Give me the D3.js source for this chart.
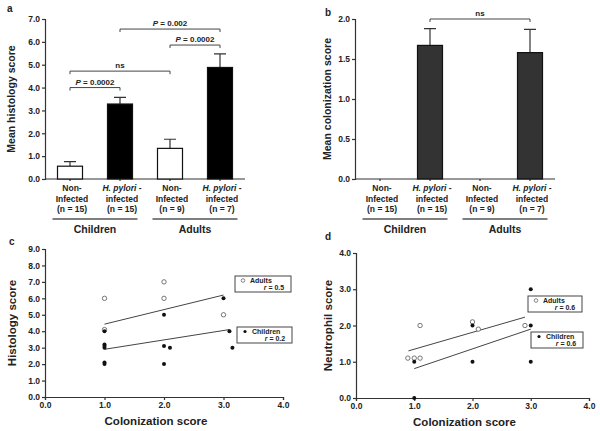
<!DOCTYPE html>
<html>
<head>
<meta charset="utf-8">
<script src="https://cdn.jsdelivr.net/npm/d3@7"></script>
<style>
  body { margin: 0; background: #fff; }
  text { font-family: "Liberation Sans", Arial, sans-serif; font-weight: bold; fill: #222; }
</style>
</head>
<body>
<div id="chart"></div>
<script>
// bar panels (a, b)
var categories = [
  ["Non-", "Infected", "(n = 15)"],
  ["H. pylori", "infected", "(n = 15)"],
  ["Non-", "Infected", "(n = 9)"],
  ["H. pylori", "infected", "(n = 7)"]
];
var groups = ["Children", "Adults"];
var histMean = [0.56, 3.28, 1.34, 4.88];
var histSem = [0.20, 0.29, 0.40, 0.59];
var colMean = [0, 1.67, 0, 1.58];
var colSem = [0, 0.21, 0, 0.29];
var histTicks = [0, 1, 2, 3, 4, 5, 6, 7];
var colTicks = [0, 0.5, 1, 1.5, 2];
// brackets: [from, to, y value, label, italic P?]
var histBrackets = [
  [0, 1, 4.0, "P = 0.0002"],
  [0, 2, 4.72, "ns"],
  [2, 3, 5.86, "P = 0.0002"],
  [1, 3, 6.56, "P = 0.002"]
];
var colBrackets = [[1, 3, 2.0, "ns"]];

// scatter panels (c, d)
var histAdults = [[1.0, 6.0], [1.0, 4.1], [2.0, 7.0], [2.0, 6.0], [3.0, 5.0]];
var histChildren = [[1.0, 4.0], [1.0, 3.2], [1.0, 3.1], [1.0, 3.0], [1.0, 2.1], [1.0, 2.0],
  [2.0, 5.0], [2.0, 3.1], [2.1, 3.0], [2.0, 2.0], [3.0, 6.0], [3.1, 4.0], [3.15, 3.0]];
var histAdultFit = [[1.0, 4.43], [3.0, 6.2]];
var histChildFit = [[1.0, 2.9], [3.1, 4.1]];
var neutAdults = [[0.89, 1.1], [1.0, 1.1], [1.1, 1.1], [1.1, 2.0], [2.0, 2.1], [2.1, 1.9], [2.9, 2.0]];
var neutChildren = [[1.0, 1.0], [1.0, 0.0], [2.0, 2.0], [2.0, 1.0], [3.0, 3.0], [3.0, 2.0], [3.0, 1.0]];
var neutAdultFit = [[0.9, 1.3], [2.9, 2.23]];
var neutChildFit = [[1.0, 0.81], [3.0, 1.9]];
var colonTicks = [0, 1, 2, 3, 4];
var histScatterTicks = [0, 1, 2, 3, 4, 5, 6, 7, 8, 9];
var neutTicks = [0, 1, 2, 3, 4];

var svg = d3.select("#chart").append("svg")
  .attr("width", 600)
  .attr("height", 431);

svg.append("rect")
  .attr("width", "100%")
  .attr("height", "100%")
  .attr("fill", "#fff");

var fmt = d3.format(".1f");

function drawBars(o) {
  var g = svg.append("g");
  var x = d3.scaleBand().domain(d3.range(4)).range([o.x0, o.x1])
    .paddingInner(0.5).paddingOuter(0.25);
  var y = d3.scaleLinear().domain([0, o.max]).range([o.y1, o.y0]);

  g.append("g")
    .attr("transform", `translate(${o.x0},0)`)
    .call(d3.axisLeft(y).tickValues(o.ticks).tickFormat(fmt).tickSize(3).tickPadding(2))
    .call(a => a.selectAll("text").style("font-size", "8.5px"));
  g.append("g")
    .attr("transform", `translate(0,${o.y1})`)
    .call(d3.axisBottom(x).tickSize(2).tickFormat(""))
    .call(a => a.select(".domain").attr("d", `M${o.x0},0H${o.x1}`));
  g.selectAll(".domain, .tick line").attr("stroke", "#333").attr("stroke-width", 1.2);

  // error bars (upper only)
  g.selectAll(".err").data(o.mean)
    .enter().append("path")
    .attr("class", "err")
    .attr("d", (d, i) => {
      if (d === 0) return null;
      var cx = x(i) + x.bandwidth() / 2, top = y(d + o.sem[i]);
      return `M${cx},${y(d)}V${top}M${cx - 6},${top}H${cx + 6}`;
    })
    .attr("fill", "none")
    .attr("stroke", "#333")
    .attr("stroke-width", 1.2);

  g.selectAll(".bar").data(o.mean)
    .enter().append("rect")
    .attr("x", (d, i) => x(i))
    .attr("y", d => y(d))
    .attr("width", x.bandwidth())
    .attr("height", d => y(0) - y(d))
    .attr("fill", (d, i) => o.fill[i])
    .attr("stroke", (d, i) => d === 0 ? "none" : "#111")
    .attr("stroke-width", 1.2);

  // significance brackets
  o.brackets.forEach(function(b) {
    var xa = x(b[0]) + x.bandwidth() / 2, xb = x(b[1]) + x.bandwidth() / 2, yy = y(b[2]);
    g.append("path")
      .attr("d", `M${xa},${yy + 3}V${yy}H${xb}V${yy + 3}`)
      .attr("fill", "none")
      .attr("stroke", "#444")
      .attr("stroke-width", 1);
    var t = g.append("text")
      .attr("x", (xa + xb) / 2)
      .attr("y", yy - 3)
      .attr("text-anchor", "middle")
      .style("font-size", "8px");
    if (b[3][0] === "P") {
      t.append("tspan").style("font-style", "italic").text("P");
      t.append("tspan").text(b[3].slice(1));
    } else {
      t.text(b[3]);
    }
  });

  // category labels
  categories.forEach(function(c, i) {
    var cx = x(i) + x.bandwidth() / 2 + 2;
    c.forEach(function(line, k) {
      var t = g.append("text")
        .attr("x", cx)
        .attr("y", o.y1 + 12 + k * 10.5)
        .attr("text-anchor", "middle")
        .style("font-size", "8.5px");
      if (line === "H. pylori") {
        t.append("tspan").style("font-style", "italic").text("H. pylori");
        t.append("tspan").text(" -");
      } else {
        t.text(line);
      }
    });
  });

  // group lines
  groups.forEach(function(name, gi) {
    var xa = x(gi * 2) - 5, xb = x(gi * 2 + 1) + x.bandwidth() + 5;
    g.append("line")
      .attr("x1", xa).attr("x2", xb)
      .attr("y1", o.y1 + 40).attr("y2", o.y1 + 40)
      .attr("stroke", "#555").attr("stroke-width", 1.3);
    g.append("text")
      .attr("x", (xa + xb) / 2)
      .attr("y", o.y1 + 54)
      .attr("text-anchor", "middle")
      .style("font-size", "10.5px")
      .text(name);
  });

  g.append("text")
    .attr("transform", `translate(${o.titleX},${(o.y0 + o.y1) / 2}) rotate(-90)`)
    .attr("text-anchor", "middle")
    .style("font-size", "10.5px")
    .text(o.title);
  g.append("text")
    .attr("x", o.labelX).attr("y", o.labelY)
    .style("font-size", "10px")
    .text(o.label);
}

function drawScatter(o) {
  var g = svg.append("g");
  var x = d3.scaleLinear().domain([0, 4]).range([o.x0, o.x1]);
  var y = d3.scaleLinear().domain([0, o.max]).range([o.y1, o.y0]);

  g.append("g")
    .attr("transform", `translate(${o.x0},0)`)
    .call(d3.axisLeft(y).tickValues(o.ticks).tickFormat(fmt).tickSize(3).tickPadding(2))
    .call(a => a.selectAll("text").style("font-size", "8.5px"));
  g.append("g")
    .attr("transform", `translate(0,${o.y1})`)
    .call(d3.axisBottom(x).tickValues(colonTicks).tickFormat(fmt).tickSize(3).tickPadding(2))
    .call(a => a.selectAll("text").style("font-size", "8.5px"));
  g.selectAll(".domain, .tick line").attr("stroke", "#333").attr("stroke-width", 1.2);

  var line = d3.line().x(d => x(d[0])).y(d => y(d[1]));
  [o.adultFit, o.childFit].forEach(function(f) {
    g.append("path")
      .attr("d", line(f))
      .attr("fill", "none")
      .attr("stroke", "#444")
      .attr("stroke-width", 1);
  });

  g.selectAll(".adult").data(o.adults)
    .enter().append("circle")
    .attr("cx", d => x(d[0]))
    .attr("cy", d => y(d[1]))
    .attr("r", 2.2)
    .attr("fill", "#fff")
    .attr("stroke", "#666")
    .attr("stroke-width", 0.9);
  g.selectAll(".child").data(o.children)
    .enter().append("circle")
    .attr("cx", d => x(d[0]))
    .attr("cy", d => y(d[1]))
    .attr("r", 2)
    .attr("fill", "#111");

  o.legends.forEach(function(l) {
    g.append("rect")
      .attr("x", l.x).attr("y", l.y)
      .attr("width", l.w).attr("height", 16)
      .attr("fill", "#fff")
      .attr("stroke", "#444")
      .attr("stroke-width", 1);
    g.append("circle")
      .attr("cx", l.x + 8).attr("cy", l.y + 4.5)
      .attr("r", l.open ? 1.8 : 1.6)
      .attr("fill", l.open ? "#fff" : "#111")
      .attr("stroke", l.open ? "#666" : "none")
      .attr("stroke-width", 0.8);
    g.append("text")
      .attr("x", l.x + 15).attr("y", l.y + 7)
      .style("font-size", "7px")
      .text(l.name);
    var t = g.append("text")
      .attr("x", l.x + l.w - 17).attr("y", l.y + 14)
      .attr("text-anchor", "middle")
      .style("font-size", "7px");
    t.append("tspan").style("font-style", "italic").text("r");
    t.append("tspan").text(" = " + l.r);
  });

  g.append("text")
    .attr("x", (o.x0 + o.x1) / 2 - 8)
    .attr("y", o.y1 + 28)
    .attr("text-anchor", "middle")
    .style("font-size", "11.5px")
    .text("Colonization score");
  g.append("text")
    .attr("transform", `translate(${o.titleX},${(o.y0 + o.y1) / 2}) rotate(-90)`)
    .attr("text-anchor", "middle")
    .style("font-size", "11.5px")
    .text(o.title);
  g.append("text")
    .attr("x", o.labelX).attr("y", o.labelY)
    .style("font-size", "10px")
    .text(o.label);
}

drawBars({
  x0: 45, x1: 245, y0: 19, y1: 179, max: 7,
  ticks: histTicks, mean: histMean, sem: histSem,
  fill: ["#fff", "#000", "#fff", "#000"],
  brackets: histBrackets,
  title: "Mean histology score", titleX: 15,
  label: "a", labelX: 7, labelY: 12
});

drawBars({
  x0: 355, x1: 555, y0: 19, y1: 179, max: 2,
  ticks: colTicks, mean: colMean, sem: colSem,
  fill: ["#333", "#333", "#333", "#333"],
  brackets: colBrackets,
  title: "Mean colonization score", titleX: 331,
  label: "b", labelX: 325, labelY: 16
});

drawScatter({
  x0: 45, x1: 283, y0: 249, y1: 397, max: 9,
  ticks: histScatterTicks,
  adults: histAdults, children: histChildren,
  adultFit: histAdultFit, childFit: histChildFit,
  legends: [
    { x: 235, y: 276, w: 56, name: "Adults", r: "0.5", open: true },
    { x: 237, y: 327, w: 55, name: "Children", r: "0.2", open: false }
  ],
  title: "Histology score", titleX: 16,
  label: "c", labelX: 9, labelY: 245
});

drawScatter({
  x0: 356, x1: 589, y0: 253, y1: 398, max: 4,
  ticks: neutTicks,
  adults: neutAdults, children: neutChildren,
  adultFit: neutAdultFit, childFit: neutChildFit,
  legends: [
    { x: 528, y: 296, w: 54, name: "Adults", r: "0.6", open: true },
    { x: 531, y: 332, w: 52, name: "Children", r: "0.6", open: false }
  ],
  title: "Neutrophil score", titleX: 332,
  label: "d", labelX: 325, labelY: 240
});
</script>
</body>
</html>
